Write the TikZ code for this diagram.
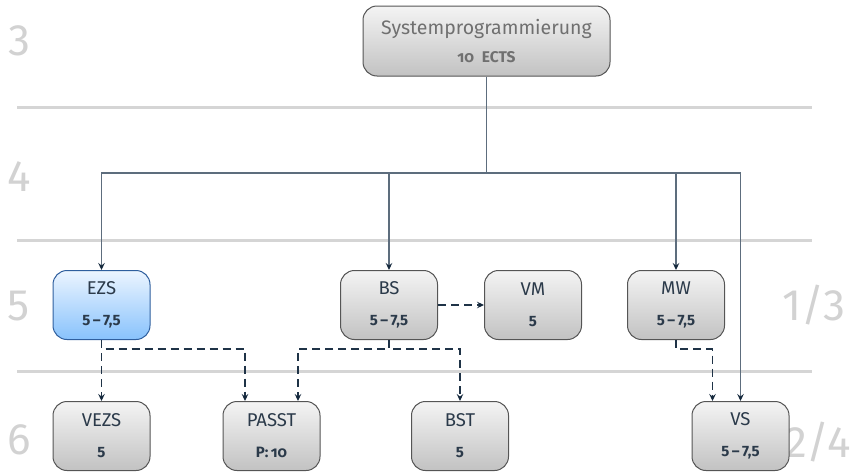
\documentclass[tikz,border=0pt]{standalone}
\usepackage{fontspec}
\setmainfont{Fira Sans}
\usetikzlibrary{arrows.meta,calc}

\definecolor{gridgray}{HTML}{D5D5D5}
\definecolor{rowgray}{HTML}{D2D2D2}
\definecolor{boxline}{HTML}{555555}
\definecolor{boxtop}{HTML}{F4F4F4}
\definecolor{boxbot}{HTML}{C2C2C2}
\definecolor{bluetop}{HTML}{ECF5FF}
\definecolor{bluebot}{HTML}{88C2FC}
\definecolor{blueline}{HTML}{2F5F9E}
\definecolor{titlecol}{HTML}{2B3A4A}
\definecolor{numcol}{HTML}{1C2B3A}
\definecolor{topcol}{HTML}{707070}
\definecolor{wire}{HTML}{5D6D7D}
\definecolor{dashwire}{HTML}{1F3347}
\definecolor{tipcol}{HTML}{14283C}

\newcommand\modtitle[1]{{\fontsize{18.5}{18.5}\selectfont #1}}
\newcommand\modnum[1]{{\fontsize{15}{15}\selectfont\bfseries #1}}

\tikzset{
  module/.style={draw=boxline, line width=1pt, rounded corners=14pt,
    minimum width=97pt, minimum height=69pt, inner sep=0pt,
    top color=boxtop, bottom color=boxbot, align=center, text=titlecol},
  focus/.style={module, draw=blueline, top color=bluetop, bottom color=bluebot},
  rowlabel/.style={text=rowgray, font=\fontsize{44}{44}\selectfont, inner sep=0pt},
  gridline/.style={draw=gridgray, line width=3pt},
  mustarrow/.style={draw=wire, line width=1.1pt,
    -{Stealth[length=7pt,width=6.5pt,inset=2.5pt,color=tipcol]}},
  optarrow/.style={draw=dashwire, line width=1.2pt, dash pattern=on 8pt off 5pt,
    -{Stealth[length=7pt,width=6.5pt,inset=2.5pt,color=tipcol]}},
}

\newcommand\modbody[2]{\modtitle{#1}\\[19pt]\modnum{#2}}

\begin{document}
\begin{tikzpicture}[x=1pt, y=-1pt]
\useasboundingbox (0,0) rectangle (853,471);

% semester separators
\draw[gridline] (17,107) -- (812,107);
\draw[gridline] (17,240) -- (812,240);
\draw[gridline] (17,371) -- (812,371);

% semester labels
\node[rowlabel] (sem3) at (19,41) {3};
\node[rowlabel] (sem4) at (19,177) {4};
\node[rowlabel] (sem5) at (19,306) {5};
\node[rowlabel] (sem6) at (19,440) {6};
\node[rowlabel] (semA) at (814,305) {1/3};
\node[rowlabel] (semB) at (818,442) {2/4};

% modules
\node[module, minimum width=247pt, minimum height=70pt, text=topcol] (top) at (486.5,41)
  {{\fontsize{19.5}{19.5}\selectfont Systemprogrammierung}\\[12pt]{\fontsize{15.5}{15.5}\selectfont\bfseries\addfontfeatures{Numbers=OldStyle}10\enspace ECTS}};

\node[focus]  (ezs)  at (101.5,305) {\modbody{EZS}{5\,–\,7,5}};
\node[module] (bs)   at (389,305)   {\modbody{BS}{5\,–\,7,5}};
\node[module] (vm)   at (533,305)   {\modbody{VM}{5}};
\node[module] (mw)   at (676,305)   {\modbody{MW}{5\,–\,7,5}};

\node[module] (vezs)  at (101.5,436) {\modbody{VEZS}{5}};
\node[module] (passt) at (271.5,436) {\modbody{PASST}{P:\,\addfontfeatures{Numbers=OldStyle}10}};
\node[module] (bst)   at (460,436)   {\modbody{BST}{5}};
\node[module] (vs)    at (740.5,436) {\modbody{VS}{5\,–\,7,5}};

% required paths
\coordinate (bus) at (486.5,173);
\draw[mustarrow] (top.south) -- (bus) -| (ezs.north);
\draw[mustarrow] (bus) -| (bs.north);
\draw[mustarrow] (bus) -| (mw.north);
\draw[mustarrow] (bus) -| (vs.north);

% recommended paths
\draw[optarrow] (ezs.south) -- (vezs.north);
\draw[optarrow] (ezs.south) -- ++(0,9) -| ([xshift=-26.5pt]passt.north);
\draw[optarrow] (bs.south) -- ++(0,9) -| ([xshift=26.5pt]passt.north);
\draw[optarrow] (bs.south) -- ++(0,9) -| (bst.north);
\draw[optarrow] (bs.east) -- (vm.west);
\draw[optarrow] (mw.south) -- ++(0,9) -| ([xshift=-28pt]vs.north);
\end{tikzpicture}
\end{document}
